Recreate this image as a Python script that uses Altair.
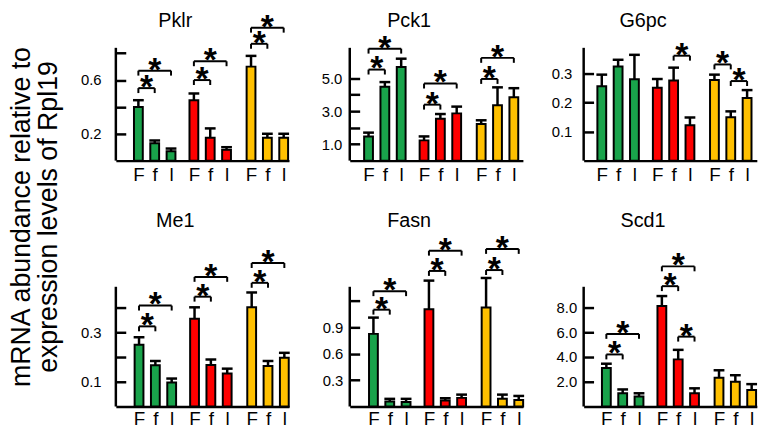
import altair as alt
import pandas as pd

FONT = "Liberation Sans"

# ---------------- data ----------------
genes = ["Pklr", "Pck1", "G6pc", "Me1", "Fasn", "Scd1"]
bar_labels = ["F", "f", "l", "F", "f", "l", "F", "f", "l"]
bar_groups = ["A", "A", "A", "B", "B", "B", "C", "C", "C"]
group_colors = ["#19a34b", "#ff0000", "#ffc000"]

pklr_mean = [0.40, 0.13, 0.07, 0.45, 0.17, 0.08, 0.70, 0.17, 0.17]
pklr_upper = [0.45, 0.15, 0.09, 0.50, 0.24, 0.10, 0.78, 0.20, 0.20]
pck1_mean = [1.47, 4.49, 5.68, 1.23, 2.55, 2.87, 2.22, 3.36, 3.85]
pck1_upper = [1.70, 4.77, 6.19, 1.47, 2.83, 3.28, 2.45, 4.45, 4.40]
g6pc_mean = [0.255, 0.323, 0.279, 0.250, 0.275, 0.121, 0.277, 0.149, 0.215]
g6pc_upper = [0.295, 0.346, 0.363, 0.280, 0.319, 0.148, 0.295, 0.169, 0.242]
me1_mean = [0.250, 0.167, 0.097, 0.355, 0.168, 0.133, 0.401, 0.164, 0.197]
me1_upper = [0.280, 0.184, 0.113, 0.401, 0.190, 0.153, 0.461, 0.184, 0.217]
fasn_mean = [0.825, 0.056, 0.050, 1.106, 0.067, 0.098, 1.125, 0.087, 0.075]
fasn_upper = [1.010, 0.087, 0.087, 1.430, 0.094, 0.135, 1.460, 0.135, 0.120]
scd1_mean = [3.12, 1.07, 0.80, 8.13, 3.81, 1.07, 2.32, 2.00, 1.33]
scd1_upper = [3.46, 1.38, 1.07, 8.93, 4.58, 1.47, 2.93, 2.53, 1.81]

# significance brackets: (first bar, second bar, bracket height)
pklr_sig = [(0, 1, 0.54), (0, 2, 0.67), (3, 4, 0.60), (3, 5, 0.74), (6, 7, 0.87), (6, 8, 0.99)]
pck1_sig = [(0, 1, 5.53), (0, 2, 6.80), (3, 4, 3.40), (3, 5, 4.68), (6, 7, 4.96), (6, 8, 6.24)]
g6pc_sig = [(4, 5, 0.36), (6, 7, 0.33), (7, 8, 0.273)]
me1_sig = [(0, 1, 0.324), (0, 2, 0.408), (3, 4, 0.444), (3, 5, 0.524), (6, 7, 0.50), (6, 8, 0.58)]
fasn_sig = [(0, 1, 1.10), (0, 2, 1.31), (3, 4, 1.54), (3, 5, 1.77), (6, 7, 1.55), (6, 8, 1.79)]
scd1_sig = [(0, 1, 4.21), (0, 2, 5.87), (3, 4, 9.73), (3, 5, 11.33), (4, 5, 5.65)]

# y axes: axis top, tick positions, labelled ticks
pklr_axis = (0.84, [0.2, 0.4, 0.6, 0.8], [0.2, 0.6])
pck1_axis = (6.85, [1, 2, 3, 4, 5], [1, 3, 5])
g6pc_axis = (0.387, [0.1, 0.2, 0.3], [0.1, 0.2, 0.3])
me1_axis = (0.484, [0.1, 0.2, 0.3, 0.4], [0.1, 0.3])
fasn_axis = (1.36, [0.3, 0.6, 0.9, 1.2], [0.3, 0.6, 0.9])
scd1_axis = (9.68, [2, 4, 6, 8], [2, 4, 6, 8])

y_title = "mRNA abundance relative to\nexpression levels of Rpl19"

means = [pklr_mean, pck1_mean, g6pc_mean, me1_mean, fasn_mean, scd1_mean]
uppers = [pklr_upper, pck1_upper, g6pc_upper, me1_upper, fasn_upper, scd1_upper]
sigs = [pklr_sig, pck1_sig, g6pc_sig, me1_sig, fasn_sig, scd1_sig]
axes_def = [pklr_axis, pck1_axis, g6pc_axis, me1_axis, fasn_axis, scd1_axis]

# ---------------- layout ----------------
W = 175
ROW_H = [114, 121]
ROW_GAP = 127.5
COL_GAP = 61.4
PX_UNIT = 16.5
X_START = [-1.38, -1.15, -1.11, -1.42, -1.45, -1.39]
GROUP_STARTS = [0, 3.4, 6.9]
bar_pos = [g + i for g in GROUP_STARTS for i in range(3)]
BAR_HALF = 0.27
CAP_HALF = 0.33
LABEL_PAD = [15, 8, 12, 15, 7, 7]
XLAB_PAD = [5, 3]
TITLE_Y = [-21, -60]
TICK = 10
LW = 2.5


def panel(k):
    gene = genes[k]
    row = k // 3
    H = ROW_H[row]
    top, ticks, labelled = axes_def[k]

    df = pd.DataFrame({
        "pos": bar_pos,
        "lo": [p - BAR_HALF for p in bar_pos],
        "hi": [p + BAR_HALF for p in bar_pos],
        "clo": [p - CAP_HALF for p in bar_pos],
        "chi": [p + CAP_HALF for p in bar_pos],
        "mean": means[k],
        "upper": uppers[k],
        "group": bar_groups,
        "label": bar_labels,
    })
    sig = pd.DataFrame(sigs[k], columns=["a", "b", "y"])
    sig["x1"] = [bar_pos[i] for i in sig["a"]]
    sig["x2"] = [bar_pos[i] for i in sig["b"]]
    sig["xm"] = (sig["x1"] + sig["x2"]) / 2
    ends = pd.DataFrame({
        "x": list(sig["x1"]) + list(sig["x2"]),
        "y": list(sig["y"]) + list(sig["y"]),
    })

    xs = alt.Scale(domain=[X_START[k], X_START[k] + W / PX_UNIT], nice=False, zero=False)
    ys = alt.Scale(domain=[0, top], nice=False, zero=True)

    pos100 = ",".join(str(round(p * 100)) for p in bar_pos)
    xaxis = alt.Axis(
        values=bar_pos,
        labelExpr="['F','f','l'][indexof([" + pos100 + "], round(datum.value*100)) % 3]",
        title=None, grid=False, ticks=False, tickSize=0,
        domainColor="black", domainWidth=LW,
        labelFont=FONT, labelFontSize=19, labelColor="black",
        labelPadding=XLAB_PAD[row], labelFlush=False, labelOverlap=False,
    )
    lab_list = ",".join(str(v) for v in labelled)
    yaxis = alt.Axis(
        values=ticks,
        labelExpr="indexof([" + lab_list + "], datum.value) >= 0 ? format(datum.value, '.1f') : ''",
        title=None, grid=False, domain=False,
        tickSize=TICK, tickWidth=LW, tickColor="black", offset=-TICK,
        labelFont=FONT, labelFontSize=15, labelColor="black",
        labelPadding=LABEL_PAD[k], labelOverlap=False,
    )

    base = alt.Chart(df)
    bars = base.mark_bar(stroke="black", strokeWidth=2).encode(
        x=alt.X("lo:Q", scale=xs, axis=xaxis),
        x2="hi:Q",
        y=alt.Y("mean:Q", scale=ys, axis=yaxis),
        y2=alt.datum(0),
        color=alt.Color("group:N", scale=alt.Scale(domain=["A", "B", "C"], range=group_colors), legend=None),
    )
    err = base.mark_rule(color="black", strokeWidth=LW).encode(
        x=alt.X("pos:Q", scale=xs, axis=xaxis),
        y=alt.Y("mean:Q", scale=ys, axis=yaxis),
        y2="upper:Q",
    )
    cap = base.mark_rule(color="black", strokeWidth=LW).encode(
        x=alt.X("clo:Q", scale=xs, axis=xaxis),
        x2="chi:Q",
        y=alt.Y("upper:Q", scale=ys, axis=yaxis),
    )
    sbase = alt.Chart(sig)
    brk = sbase.mark_rule(color="black", strokeWidth=2).encode(
        x=alt.X("x1:Q", scale=xs, axis=xaxis),
        x2="x2:Q",
        y=alt.Y("y:Q", scale=ys, axis=yaxis),
    )
    brk_end = alt.Chart(ends).mark_rule(color="black", strokeWidth=2, y2Offset=5).encode(
        x=alt.X("x:Q", scale=xs, axis=xaxis),
        y=alt.Y("y:Q", scale=ys, axis=yaxis),
        y2="y:Q",
    )
    stars = sbase.mark_text(text="*", font=FONT, fontSize=34, fontWeight="bold", color="black",
                            baseline="alphabetic", dy=10).encode(
        x=alt.X("xm:Q", scale=xs, axis=xaxis),
        y=alt.Y("y:Q", scale=ys, axis=yaxis),
    )
    one = alt.Chart(pd.DataFrame({"t": [gene]}))
    yline = one.mark_rule(color="black", strokeWidth=LW).encode(
        x=alt.value(0), y=alt.value(0), y2=alt.value(H)
    )
    title = one.mark_text(font=FONT, fontSize=20, color="black", baseline="alphabetic").encode(
        text="t:N", x=alt.value(60), y=alt.value(TITLE_Y[row])
    )
    layers = [err, cap, bars, brk, brk_end, stars, yline, title]
    if k == 0:
        yt = alt.Chart(pd.DataFrame({"t": [y_title]})).mark_text(
            font=FONT, fontSize=27, lineHeight=28, lineBreak="\n", angle=270,
            align="center", baseline="top", color="black",
        ).encode(text="t:N", x=alt.value(-108), y=alt.value(171))
        layers.append(yt)
    return alt.layer(*layers).properties(width=W, height=H)


chart = alt.concat(
    *[panel(k) for k in range(6)],
    columns=3,
    spacing={"column": COL_GAP, "row": ROW_GAP},
    bounds="flush",
).properties(padding=0).configure_view(stroke=None)

chart.save("out.html", embed_options={"renderer": "svg", "actions": False})
